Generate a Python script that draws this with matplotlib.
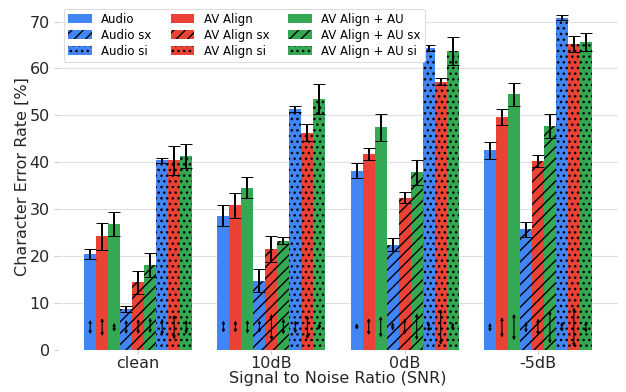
import numpy as np
import matplotlib
matplotlib.use("Agg")
import matplotlib.pyplot as plt
from matplotlib.patches import Patch

snr_labels = ["clean", "10dB", "0dB", "-5dB"]
series_names = ["Audio", "AV Align", "AV Align + AU",
                "Audio sx", "AV Align sx", "AV Align + AU sx",
                "Audio si", "AV Align si", "AV Align + AU si"]

# character error rate per series, one value per SNR condition
cer = [
    [20.5, 28.6, 38.2, 42.6],   # Audio
    [24.2, 30.8, 41.8, 49.6],   # AV Align
    [26.9, 34.6, 47.5, 54.5],   # AV Align + AU
    [8.7, 14.8, 22.4, 25.7],    # Audio sx
    [14.4, 21.5, 32.5, 40.2],   # AV Align sx
    [18.1, 23.3, 37.9, 47.8],   # AV Align + AU sx
    [40.4, 51.4, 64.4, 70.8],   # Audio si
    [40.4, 46.3, 57.2, 65.3],   # AV Align si
    [41.3, 53.5, 63.7, 65.6],   # AV Align + AU si
]
cer_err = [
    [1.0, 2.2, 1.6, 1.8],
    [2.8, 2.6, 1.2, 1.7],
    [2.6, 2.3, 2.9, 2.4],
    [0.6, 2.5, 1.4, 1.6],
    [2.5, 2.8, 1.1, 1.3],
    [2.5, 0.8, 2.7, 2.6],
    [0.6, 0.7, 0.6, 0.5],
    [3.0, 1.8, 0.7, 1.7],
    [2.5, 3.2, 2.9, 1.9],
]
# double headed arrows drawn near the bottom of each bar (low, high)
arrow_lo = [
    [3.4, 3.7, 4.3, 3.9],
    [3.0, 3.7, 3.2, 2.7],
    [3.9, 3.5, 2.7, 2.1],
    [3.4, 3.7, 4.1, 3.7],
    [3.4, 2.1, 3.3, 3.2],
    [3.6, 3.3, 2.1, 1.4],
    [3.2, 3.5, 3.9, 3.9],
    [2.3, 2.3, 1.1, 0.7],
    [3.4, 4.4, 4.1, 3.7],
]
arrow_hi = [
    [6.4, 6.3, 5.7, 5.8],
    [6.8, 6.3, 6.8, 7.0],
    [5.8, 6.4, 7.2, 7.7],
    [6.4, 6.4, 5.9, 6.0],
    [6.6, 7.7, 6.7, 6.7],
    [6.9, 6.7, 7.8, 8.4],
    [6.7, 6.3, 6.0, 6.0],
    [7.5, 7.4, 8.7, 9.1],
    [6.4, 5.7, 5.9, 6.1],
]

colors = ["#4285F4", "#EA4335", "#34A853"] * 3
hatches = ["", "", "", "////", "////", "////", "....", "....", "...."]

# hatch spacing depends on dpi, so draw at 136 dpi and scale point sizes
DPI = 136
S = 100.0 / DPI
plt.rcParams['hatch.linewidth'] = 1.0 * S
fig = plt.figure(figsize=(626 / DPI, 392 / DPI), dpi=DPI)
ax = fig.add_axes([0.093, 0.107, 0.894, 0.886])

x = np.arange(len(snr_labels))
width = 0.09
for i in range(9):
    pos = x + (i - 4) * width
    ax.bar(pos, cer[i], width, color=colors[i], hatch=hatches[i],
           edgecolor="black", linewidth=0, zorder=3)
    ax.errorbar(pos, cer[i], yerr=cer_err[i], fmt="none", ecolor="black",
                elinewidth=1.4 * S, capsize=4 * S, capthick=0.7 * S, zorder=4)
    for j in range(len(x)):
        ax.annotate("", xy=(pos[j], arrow_hi[i][j]), xytext=(pos[j], arrow_lo[i][j]),
                    arrowprops=dict(arrowstyle="<|-|>", color="black", lw=0.8 * S,
                                    mutation_scale=4 * S, shrinkA=0, shrinkB=0),
                    zorder=5)

fs = 11.5 * S
ax.set_xlim(-0.6, 3.6)
ax.set_ylim(0, 74)
ax.set_xticks(x)
ax.set_xticklabels(snr_labels, fontsize=fs, color="#262626")
ax.set_yticks(range(0, 71, 10))
ax.tick_params(axis="y", labelsize=fs, labelcolor="#262626", color="#cccccc",
               length=3 * S, width=0.8 * S, pad=3 * S)
ax.tick_params(axis="x", color="#cccccc", length=3 * S, width=0.8 * S, pad=1.5 * S)
ax.grid(axis="y", color="#e0e0e0", linewidth=0.8 * S, zorder=0)
ax.set_axisbelow(True)
for s in ax.spines.values():
    s.set_visible(False)
ax.set_xlabel("Signal to Noise Ratio (SNR)", fontsize=fs, color="#262626", labelpad=0)
ax.set_ylabel("Character Error Rate [%]", fontsize=fs, color="#262626", labelpad=0)

handles = []
for i in [0, 3, 6, 1, 4, 7, 2, 5, 8]:
    handles.append(Patch(facecolor=colors[i], hatch=hatches[i], edgecolor="black",
                         linewidth=0, label=series_names[i]))
leg = ax.legend(handles=handles, ncol=3, loc="upper left", fontsize=8.5 * S,
                bbox_to_anchor=(0.0, 1.0), handlelength=2.0, handleheight=0.8,
                columnspacing=1.6, labelspacing=0.25, borderpad=0.35,
                fancybox=True, framealpha=1, edgecolor="#dddddd")
leg.get_frame().set_linewidth(0.8 * S)

fig.savefig("out.png", dpi=DPI)
